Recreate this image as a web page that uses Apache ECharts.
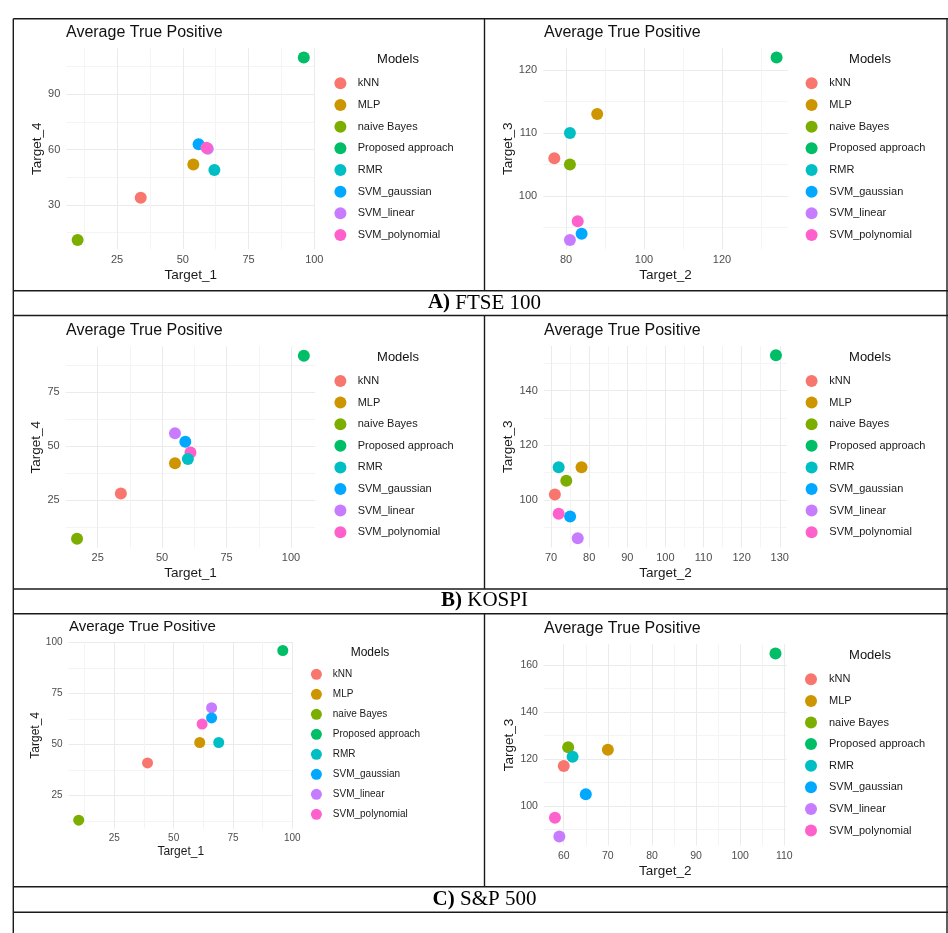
<!DOCTYPE html>
<html>
<head>
<meta charset="utf-8">
<script src="https://cdn.jsdelivr.net/npm/echarts@6/dist/echarts.min.js"></script>
<style>
html,body{margin:0;padding:0;background:#fff;}
#chart{width:948px;height:933px;}
</style>
</head>
<body>
<div id="chart"></div>
<script>
// ---------------- data ----------------
const models = ['kNN', 'MLP', 'naive Bayes', 'Proposed approach', 'RMR', 'SVM_gaussian', 'SVM_linear', 'SVM_polynomial'];
const modelColors = ['#F8766D', '#CD9600', '#7CAE00', '#00BE67', '#00BFC4', '#00A9FF', '#C77CFF', '#FF61CC'];

// FTSE 100
const ftseTarget1 = [34, 54, 10, 96, 62, 56, 59.5, 59];
const ftseTarget4 = [34, 52, 11, 110, 49, 63, 60.5, 61];
const ftseTarget2 = [77, 88, 81, 134, 81, 84, 81, 83];
const ftseTarget3 = [106, 113, 105, 122, 110, 94, 93, 96];
// KOSPI
const kospiTarget1 = [34, 55, 17, 105, 60, 59, 55, 61];
const kospiTarget4 = [28, 42, 7, 92, 44, 52, 56, 47];
const kospiTarget2 = [71, 78, 74, 129, 72, 75, 77, 72];
const kospiTarget3 = [102, 112, 107, 153, 112, 94, 86, 95];
// S&P 500
const spTarget1 = [39, 61, 10, 96, 69, 66, 66, 62];
const spTarget4 = [41, 51, 13, 96, 51, 63, 68, 60];
const spTarget2 = [60, 70, 61, 108, 62, 65, 59, 58];
const spTarget3 = [117, 124, 125, 165, 121, 105, 87, 95];

const tickStepsX = [25, 20, 25, 10, 25, 10];
const tickStepsY = [30, 10, 25, 20, 25, 20];

const chartTitle = 'Average True Positive';
const legendTitle = 'Models';
const captionLabels = ['A)', 'B)', 'C)'];
const captionNames = ['FTSE 100', 'KOSPI', 'S&P 500'];

// ---------------- layout ----------------
const SANS = "'Liberation Sans', Arial, sans-serif";
const SERIF = "'Liberation Serif', 'Times New Roman', serif";

const panels = [
  {xs: ftseTarget1, ys: ftseTarget4, xName: 'Target_1', yName: 'Target_4',
   grid: {left: 66.3, top: 48.3, right: 315.1, bottom: 249.2}, xGap: 19, yGap: 21.5, xMargin: 5, yMargin: 6,
   title: [66, 32.5, 16], leg: {cx: 346.7, cy: 83.3, step: 21.67, tx: 364, mx: 398, my: 59.3},
   tick: 11, axName: 13.5, legFont: 11, legTitle: 13, sym: 12, z: {}},
  {xs: ftseTarget2, ys: ftseTarget3, xName: 'Target_2', yName: 'Target_3',
   grid: {left: 543.2, top: 48.3, right: 787.7, bottom: 249.2}, xGap: 19, yGap: 28.4, xMargin: 5, yMargin: 6,
   title: [544, 32.5, 16], leg: {cx: 818.3, cy: 83.3, step: 21.67, tx: 836, mx: 870, my: 59.3},
   tick: 11, axName: 13.5, legFont: 11, legTitle: 13, sym: 12, z: {}},
  {xs: kospiTarget1, ys: kospiTarget4, xName: 'Target_1', yName: 'Target_4',
   grid: {left: 65.7, top: 346.5, right: 315.2, bottom: 547.9}, xGap: 18.7, yGap: 20.6, xMargin: 5, yMargin: 6,
   title: [66, 330.7, 16], leg: {cx: 346.7, cy: 381, step: 21.6, tx: 364, mx: 398, my: 357.3},
   tick: 11, axName: 13.5, legFont: 11, legTitle: 13, sym: 12, z: {4: 3}},
  {xs: kospiTarget2, ys: kospiTarget3, xName: 'Target_2', yName: 'Target_3',
   grid: {left: 543.8, top: 346, right: 787, bottom: 547.4}, xGap: 19.2, yGap: 28.7, xMargin: 5, yMargin: 6,
   title: [544, 330.7, 16], leg: {cx: 818.3, cy: 381, step: 21.6, tx: 836, mx: 870, my: 357.3},
   tick: 11, axName: 13.5, legFont: 11, legTitle: 13, sym: 12, z: {}},
  {xs: spTarget1, ys: spTarget4, xName: 'Target_1', yName: 'Target_4',
   grid: {left: 68.5, top: 642, right: 293, bottom: 828.7}, xGap: 17, yGap: 25.8, xMargin: 4.5, yMargin: 6,
   title: [69, 627.3, 15], leg: {cx: 322.3, cy: 674.3, step: 20, tx: 338.7, mx: 370, my: 652.3},
   tick: 10, axName: 12, legFont: 10, legTitle: 12, sym: 11, z: {5: 3}},
  {xs: spTarget2, ys: spTarget3, xName: 'Target_2', yName: 'Target_3',
   grid: {left: 543.9, top: 644.4, right: 786.5, bottom: 845.6}, xGap: 18.3, yGap: 28.1, xMargin: 5, yMargin: 6,
   title: [544, 628.3, 16], leg: {cx: 818, cy: 679.3, step: 21.6, tx: 836, mx: 870, my: 655.7},
   tick: 10.5, axName: 13.5, legFont: 11, legTitle: 13, sym: 12, z: {}}
];

const captionY = [303, 600.5, 899.5];
const hLines = [18.7, 290.7, 315.5, 589, 613.7, 886.7, 912.3];
const panelRows = [[18.7, 290.7], [315.5, 589], [613.7, 886.7]];
const LEFT_X = 13.3, MID_X = 484.5, RIGHT_X = 947;

// ---------------- build option ----------------
function isMultiple(v, step) {
  const r = v / step;
  return Math.abs(r - Math.round(r)) < 1e-6;
}
function padRange(arr) {
  const mn = Math.min.apply(null, arr), mx = Math.max.apply(null, arr);
  const pad = (mx - mn) * 0.05;
  return [mn - pad, mx + pad];
}
function makeAxis(p, i, isX) {
  const vals = isX ? p.xs : p.ys;
  const step = isX ? tickStepsX[i] : tickStepsY[i];
  const r = padRange(vals);
  return {
    type: 'value', gridIndex: i, min: r[0], max: r[1],
    minInterval: step, maxInterval: step, splitNumber: 4,
    name: isX ? p.xName : p.yName,
    nameLocation: 'middle', nameGap: isX ? p.xGap : p.yGap,
    nameRotate: isX ? 0 : 90,
    nameTextStyle: {color: '#1a1a1a', fontSize: p.axName, fontFamily: SANS},
    axisLine: {show: false}, axisTick: {show: false},
    axisLabel: {
      color: '#4d4d4d', fontSize: p.tick, fontFamily: SANS,
      margin: isX ? p.xMargin : p.yMargin,
      showMinLabel: false, showMaxLabel: false,
      formatter: v => isMultiple(v, step) ? String(Math.round(v)) : ''
    },
    splitLine: {show: true, showMinLine: false, showMaxLine: false, lineStyle: {color: '#EBEBEB', width: 1}},
    minorTick: {show: false, splitNumber: 2},
    minorSplitLine: {show: true, lineStyle: {color: '#F4F4F4', width: 1}}
  };
}

const grids = [], xAxes = [], yAxes = [], series = [], legends = [], graphics = [];
panels.forEach((p, i) => {
  grids.push({left: p.grid.left, top: p.grid.top,
              width: p.grid.right - p.grid.left, height: p.grid.bottom - p.grid.top,
              containLabel: false});
  xAxes.push(makeAxis(p, i, true));
  yAxes.push(makeAxis(p, i, false));
  models.forEach((m, k) => {
    series.push({
      type: 'scatter', name: m, xAxisIndex: i, yAxisIndex: i,
      data: [[p.xs[k], p.ys[k]]],
      symbol: 'circle', symbolSize: p.sym,
      itemStyle: {color: modelColors[k], opacity: 1},
      emphasis: {disabled: true}, silent: true, animation: false,
      z: p.z[k] || 2
    });
  });
  const symW = 2 * (p.leg.tx - p.leg.cx - 5);
  legends.push({
    data: models.map(m => ({name: m, icon: 'circle'})),
    orient: 'vertical', padding: 0,
    left: p.leg.cx - symW / 2, top: p.leg.cy - p.sym / 2,
    itemWidth: symW, itemHeight: p.sym, itemGap: p.leg.step - p.sym,
    selectedMode: false,
    textStyle: {color: '#1a1a1a', fontSize: p.legFont, fontFamily: SANS}
  });
  graphics.push({type: 'text', x: p.title[0], y: p.title[1], silent: true,
    style: {text: chartTitle, fill: '#111', fontSize: p.title[2], fontFamily: SANS,
            align: 'left', verticalAlign: 'middle'}});
  graphics.push({type: 'text', x: p.leg.mx, y: p.leg.my, silent: true,
    style: {text: legendTitle, fill: '#111', fontSize: p.legTitle, fontFamily: SANS,
            align: 'center', verticalAlign: 'middle'}});
});

// table lines
const lineStyle = {stroke: '#1a1a1a', lineWidth: 1.4};
hLines.forEach(y => graphics.push({type: 'line', silent: true,
  shape: {x1: LEFT_X, y1: y, x2: 948, y2: y}, style: lineStyle}));
graphics.push({type: 'line', silent: true, shape: {x1: LEFT_X, y1: hLines[0], x2: LEFT_X, y2: 933}, style: lineStyle});
graphics.push({type: 'line', silent: true, shape: {x1: RIGHT_X, y1: hLines[0], x2: RIGHT_X, y2: 933}, style: lineStyle});
panelRows.forEach(r => graphics.push({type: 'line', silent: true,
  shape: {x1: MID_X, y1: r[0], x2: MID_X, y2: r[1]}, style: lineStyle}));

// captions
captionLabels.forEach((lab, i) => {
  graphics.push({type: 'text', x: MID_X, y: captionY[i], silent: true,
    style: {text: '{b|' + lab + '} ' + captionNames[i], fill: '#000', fontSize: 21, fontFamily: SERIF,
            align: 'center', verticalAlign: 'middle',
            rich: {b: {fontWeight: 'bold', fontSize: 21, fontFamily: SERIF, fill: '#000'}}}});
});

const chart = echarts.init(document.getElementById('chart'), null, {renderer: 'canvas'});
chart.setOption({
  backgroundColor: '#ffffff',
  animation: false,
  grid: grids, xAxis: xAxes, yAxis: yAxes,
  legend: legends, series: series, graphic: graphics
});
</script>
</body>
</html>
